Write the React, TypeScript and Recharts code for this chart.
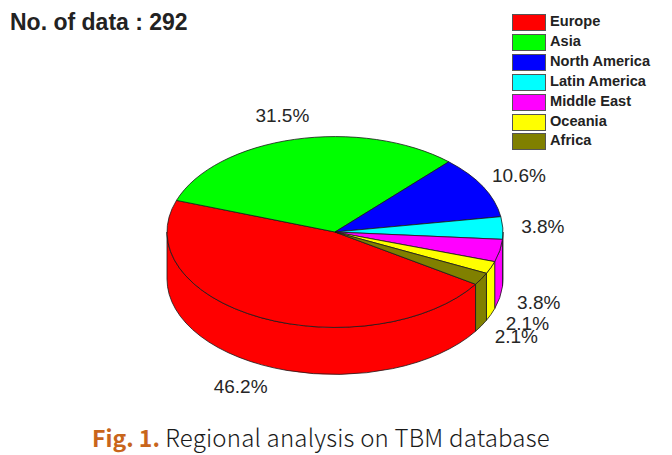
import React from "react";
import { PieChart, Pie, Legend } from "recharts";

const regions = ["Europe", "Asia", "North America", "Latin America", "Middle East", "Oceania", "Africa"];
const shares = [46.2, 31.5, 10.6, 3.8, 3.8, 2.1, 2.1];
const colors = ["#ff0000", "#00ff00", "#0000ff", "#00ffff", "#ff00ff", "#ffff00", "#808000"];
const labelNudges = [[-20, 69], [-12, -24], [36, -11], [40, -1], [39, 52], [36.5, 55.5], [35, 57.5]];

const rows = regions.map((name, i) => ({ name, value: shares[i], fill: colors[i] }));

const SQUASH = 0.568;
const DEPTH = 47;
const LINE = "#1a1a1a";
const rad = (d: number) => (d * Math.PI) / 180;
const pt = (cx: number, cy: number, r: number, a: number) => [
  cx + r * Math.cos(rad(a)),
  cy - r * SQUASH * Math.sin(rad(a)),
];

function TopSector(p: any) {
  const { cx, cy, outerRadius: r, startAngle: a, endAngle: b, fill } = p;
  const [x0, y0] = pt(cx, cy, r, a);
  const [x1, y1] = pt(cx, cy, r, b);
  const large = Math.abs(a - b) > 180 ? 1 : 0;
  const d = `M${cx},${cy}L${x0},${y0}A${r},${r * SQUASH} 0 ${large} 1 ${x1},${y1}Z`;
  return <path d={d} fill={fill} stroke={LINE} strokeWidth={0.8} strokeLinejoin="round" />;
}

function WallSector(p: any) {
  const { cx, cy, outerRadius: r, startAngle: a, endAngle: b, fill } = p;
  let hi = 0;
  let lo = 0;
  for (const [from, to] of [[-180, 0], [180, 360]]) {
    const h = Math.min(a, to);
    const l = Math.max(b, from);
    if (h > l) {
      hi = h;
      lo = l;
    }
  }
  if (hi === lo) return <g />;
  const [x0, y0] = pt(cx, cy, r, hi);
  const [x1, y1] = pt(cx, cy, r, lo);
  const ry = r * SQUASH;
  const d = `M${x0},${y0}A${r},${ry} 0 0 1 ${x1},${y1}L${x1},${y1 + DEPTH}A${r},${ry} 0 0 0 ${x0},${y0 + DEPTH}Z`;
  return <path d={d} fill={fill} stroke={LINE} strokeWidth={0.8} strokeLinejoin="round" />;
}

function renderLabel(p: any) {
  const { cx, cy, outerRadius: r, midAngle, value, index } = p;
  const [x, y] = pt(cx, cy, r, midAngle);
  const [dx, dy] = labelNudges[index];
  return (
    <text
      key={index}
      x={x + dx}
      y={y + dy}
      textAnchor="middle"
      dominantBaseline="central"
      fontFamily="'Liberation Sans', Arial, sans-serif"
      fontSize={19}
      fill="#262626"
    >
      {`${value.toFixed(1)}%`}
    </text>
  );
}

function LegendBox({ payload }: any) {
  const seen = new Set<string>();
  const items = (payload || []).filter((e: any) => {
    if (seen.has(e.value)) return false;
    seen.add(e.value);
    return true;
  });
  return (
    <div>
      {items.map((e: any) => (
        <div key={e.value} style={{ display: "flex", alignItems: "center", height: 19.85 }}>
          <span
            style={{
              width: 32,
              height: 15,
              background: e.color,
              border: "1px solid #555",
              display: "inline-block",
              marginRight: 4,
            }}
          />
          <span
            style={{
              fontFamily: "'Liberation Sans', Arial, sans-serif",
              fontWeight: 700,
              fontSize: 14.6,
              lineHeight: "17px",
              position: "relative",
              top: -1,
              color: "#222",
              whiteSpace: "nowrap",
            }}
          >
            {e.value}
          </span>
        </div>
      ))}
    </div>
  );
}

export default function App() {
  return (
    <div style={{ position: "absolute", left: 0, top: 0, width: 672, height: 455, background: "#fff", overflow: "hidden" }}>
      <PieChart width={672} height={455} margin={{ top: 0, right: 0, bottom: 0, left: 0 }}>
        <Pie
          data={rows}
          dataKey="value"
          nameKey="name"
          cx={335}
          cy={232}
          innerRadius={0}
          outerRadius={168}
          startAngle={326.8}
          endAngle={-33.2}
          stroke="none"
          shape={WallSector}
          legendType="none"
          isAnimationActive={false}
        />
        <Pie
          data={rows}
          dataKey="value"
          nameKey="name"
          cx={335}
          cy={232}
          innerRadius={0}
          outerRadius={168}
          startAngle={326.8}
          endAngle={-33.2}
          stroke="none"
          shape={TopSector}
          label={renderLabel}
          labelLine={false}
          isAnimationActive={false}
        />
        <Legend
          layout="vertical"
          align="right"
          verticalAlign="top"
          itemSorter={null}
          content={<LegendBox />}
          wrapperStyle={{ position: "absolute", left: 512, top: 13, width: 160, right: "auto" }}
        />
      </PieChart>
      <div
        style={{
          position: "absolute",
          left: 10,
          top: 9,
          fontFamily: "'Liberation Sans', Arial, sans-serif",
          fontWeight: 700,
          fontSize: 23,
          color: "#222",
          whiteSpace: "nowrap",
        }}
      >
        No. of data : 292
      </div>
      <div
        style={{
          position: "absolute",
          left: 0,
          width: 672,
          top: 420,
          paddingLeft: 92,
          boxSizing: "border-box",
          fontFamily: "'Noto Sans CJK KR', 'Noto Sans', sans-serif",
          fontSize: 24,
          lineHeight: "34px",
          color: "#1a1a1a",
          whiteSpace: "nowrap",
        }}
      >
        <span style={{ color: "#c8651b", fontWeight: 700, fontSize: 23 }}>Fig. 1.</span>{" "}
        <span style={{ fontWeight: 300, letterSpacing: 0.2 }}>Regional analysis on TBM database</span>
      </div>
    </div>
  );
}
